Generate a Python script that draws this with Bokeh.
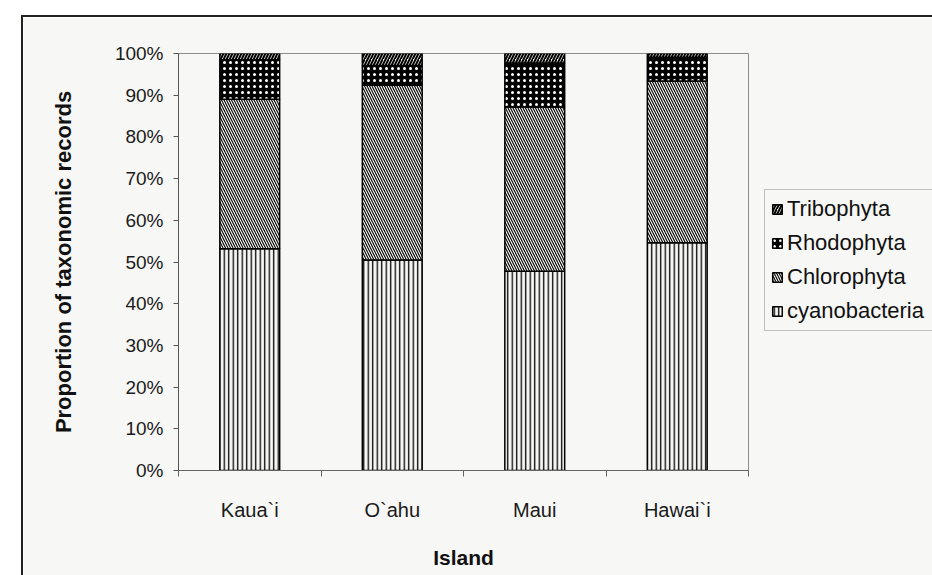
from bokeh.plotting import figure
from bokeh.models import (Range1d, FixedTicker, CustomJSTickFormatter, PrintfTickFormatter,
                          Legend, LegendItem, ColumnDataSource)
from bokeh.embed import file_html
from bokeh.resources import INLINE

# ---- data (percent of taxonomic records) ----
islands = ["Kaua`i", "O`ahu", "Maui", "Hawai`i"]
cyanobacteria = [53.2, 50.5, 47.8, 54.6]
chlorophyta = [35.8, 41.9, 39.4, 38.8]
rhodophyta = [9.5, 4.7, 10.5, 5.7]
tribophyta = [1.5, 2.9, 2.3, 0.9]
series_names = ["cyanobacteria", "Chlorophyta", "Rhodophyta", "Tribophyta"]
y_ticks = [0, 10, 20, 30, 40, 50, 60, 70, 80, 90, 100]

BG = "#f7f7f5"
FONT = "Liberation Sans"

x_pos = [i + 0.5 for i in range(len(islands))]
source = ColumnDataSource(dict(x=x_pos, island=islands,
                               cyanobacteria=cyanobacteria, Chlorophyta=chlorophyta,
                               Rhodophyta=rhodophyta, Tribophyta=tribophyta))

p = figure(frame_width=570, frame_height=417,
           x_range=Range1d(0, len(islands)), y_range=Range1d(0, 100),
           output_backend="svg", toolbar_location=None,
           min_border_left=155, min_border_top=36, min_border_bottom=105, min_border_right=184,
           margin=(17, 0, 0, 23),
           background_fill_color=BG, border_fill_color=BG)
p.styles = {"outline": "2px solid #222222"}

renderers = p.vbar_stack(series_names, x="x", width=0.42, source=source,
                         fill_color=[BG, BG, "black", BG],
                         hatch_pattern=["|", "\\", ".", "/"],
                         hatch_color=["black", "black", "white", "black"],
                         hatch_scale=[4.5, 5.0, 6.0, 6.0],
                         hatch_weight=[1.3, 1.1, 1.6, 2.0],
                         line_color="black", line_width=1.5)

p.xgrid.visible = False
p.ygrid.visible = False
p.outline_line_color = "#8c8c8c"
p.outline_line_width = 1

# y axis
ya = p.yaxis[0]
ya.ticker = FixedTicker(ticks=y_ticks)
ya.formatter = PrintfTickFormatter(format="%d%%")
ya.major_tick_out = 5
ya.major_tick_in = 0
ya.minor_tick_out = 0
ya.minor_tick_in = 0
ya.axis_line_color = "#555555"
ya.major_tick_line_color = "#555555"
ya.major_label_text_font = FONT
ya.major_label_text_font_size = "19px"
ya.major_label_text_color = "#1a1a1a"
ya.major_label_standoff = 10
ya.axis_label = "Proportion of taxonomic records"
ya.axis_label_text_font = FONT
ya.axis_label_text_font_style = "bold"
ya.axis_label_text_font_size = "22px"
ya.axis_label_text_color = "#111111"
ya.axis_label_standoff = 36

# x axis
xa = p.xaxis[0]
xa.ticker = FixedTicker(ticks=x_pos, minor_ticks=list(range(len(islands) + 1)))
xa.formatter = CustomJSTickFormatter(args=dict(names=islands),
                                     code="const i = Math.floor(tick); return (i >= 0 && i < names.length) ? names[i] : '';")
xa.major_tick_out = 0
xa.major_tick_in = 0
xa.minor_tick_out = 6
xa.minor_tick_in = 0
xa.axis_line_color = "#666666"
xa.minor_tick_line_color = "#666666"
xa.major_label_text_font = FONT
xa.major_label_text_font_size = "20px"
xa.major_label_text_color = "#1a1a1a"
xa.major_label_standoff = 22
xa.axis_label = "Island"
xa.axis_label_text_font = FONT
xa.axis_label_text_font_style = "bold"
xa.axis_label_text_font_size = "21px"
xa.axis_label_text_color = "#111111"
xa.axis_label_standoff = 22

# legend (reverse order: top series first), placed in the right-hand panel,
# running past the right edge as in the reference
items = [LegendItem(label=series_names[i], renderers=[renderers[i]]) for i in range(3, -1, -1)]
legend = Legend(items=items, location=(16, 139),
                label_text_font=FONT, label_text_font_size="22px", label_text_color="#111111",
                glyph_width=12, glyph_height=12, label_height=24, label_standoff=4,
                label_width=155, spacing=8, padding=6, margin=0,
                border_line_color="#8c8c8c", border_line_width=1,
                background_fill_color=BG, background_fill_alpha=1.0)
p.add_layout(legend, "right")

open("out.html", "w").write(file_html(p, INLINE))
